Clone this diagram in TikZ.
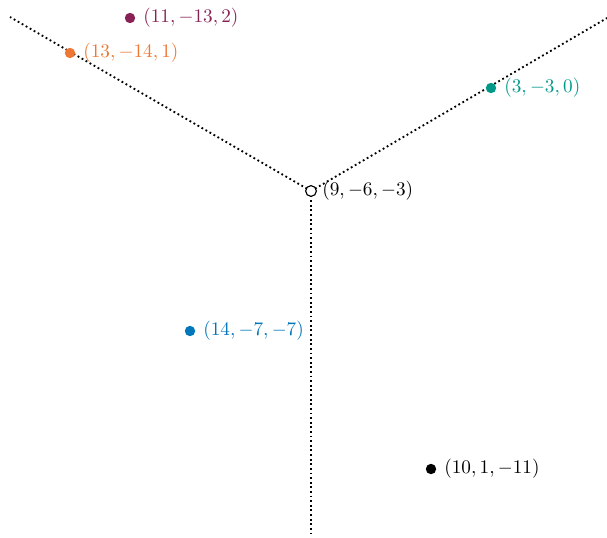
\documentclass[tikz,border=0pt]{standalone}
\begin{document}
\begin{tikzpicture}[x=0.52pt,y=-0.52pt]
\definecolor{cpurple}{HTML}{882255}
\definecolor{corange}{HTML}{EE7733}
\definecolor{cteal}{HTML}{009988}
\definecolor{cblue}{HTML}{0077BB}
\tikzset{
  ray/.style={line width=0.95pt, dash pattern=on 0.95pt off 1.45pt},
  pt/.style={circle, fill=#1, inner sep=0pt, minimum size=5.4pt},
  lab/.style={anchor=west, text=#1, inner sep=0pt, font=\normalsize},
}
\useasboundingbox (0,0) rectangle (607,537);
\coordinate (c) at (311,191);
\coordinate (tl) at (10,17);
\coordinate (tr) at (607,18);
\coordinate (bt) at (311,535);
\draw[ray] (c) -- (tl);
\draw[ray] (c) -- (tr);
\draw[ray] (c) -- (bt);
\node[circle, draw=black, fill=white, line width=0.6pt, inner sep=0pt, minimum size=5.6pt] (cc) at (c) {};
\node[lab=black] (lc) at (322,191) {$(9,-6,-3)$};
\node[pt=cpurple] (p1) at (130,18) {};
\node[lab=cpurple] (l1) at (143,18) {$(11,-13,2)$};
\node[pt=corange] (p2) at (70,53) {};
\node[lab=corange] (l2) at (83,53) {$(13,-14,1)$};
\node[pt=cteal] (p3) at (491,88) {};
\node[lab=cteal] (l3) at (504,88) {$(3,-3,0)$};
\node[pt=cblue] (p4) at (190,331) {};
\node[lab=cblue] (l4) at (203,331) {$(14,-7,-7)$};
\node[pt=black] (p5) at (431,469) {};
\node[lab=black] (l5) at (444,469) {$(10,1,-11)$};
\end{tikzpicture}
\end{document}
